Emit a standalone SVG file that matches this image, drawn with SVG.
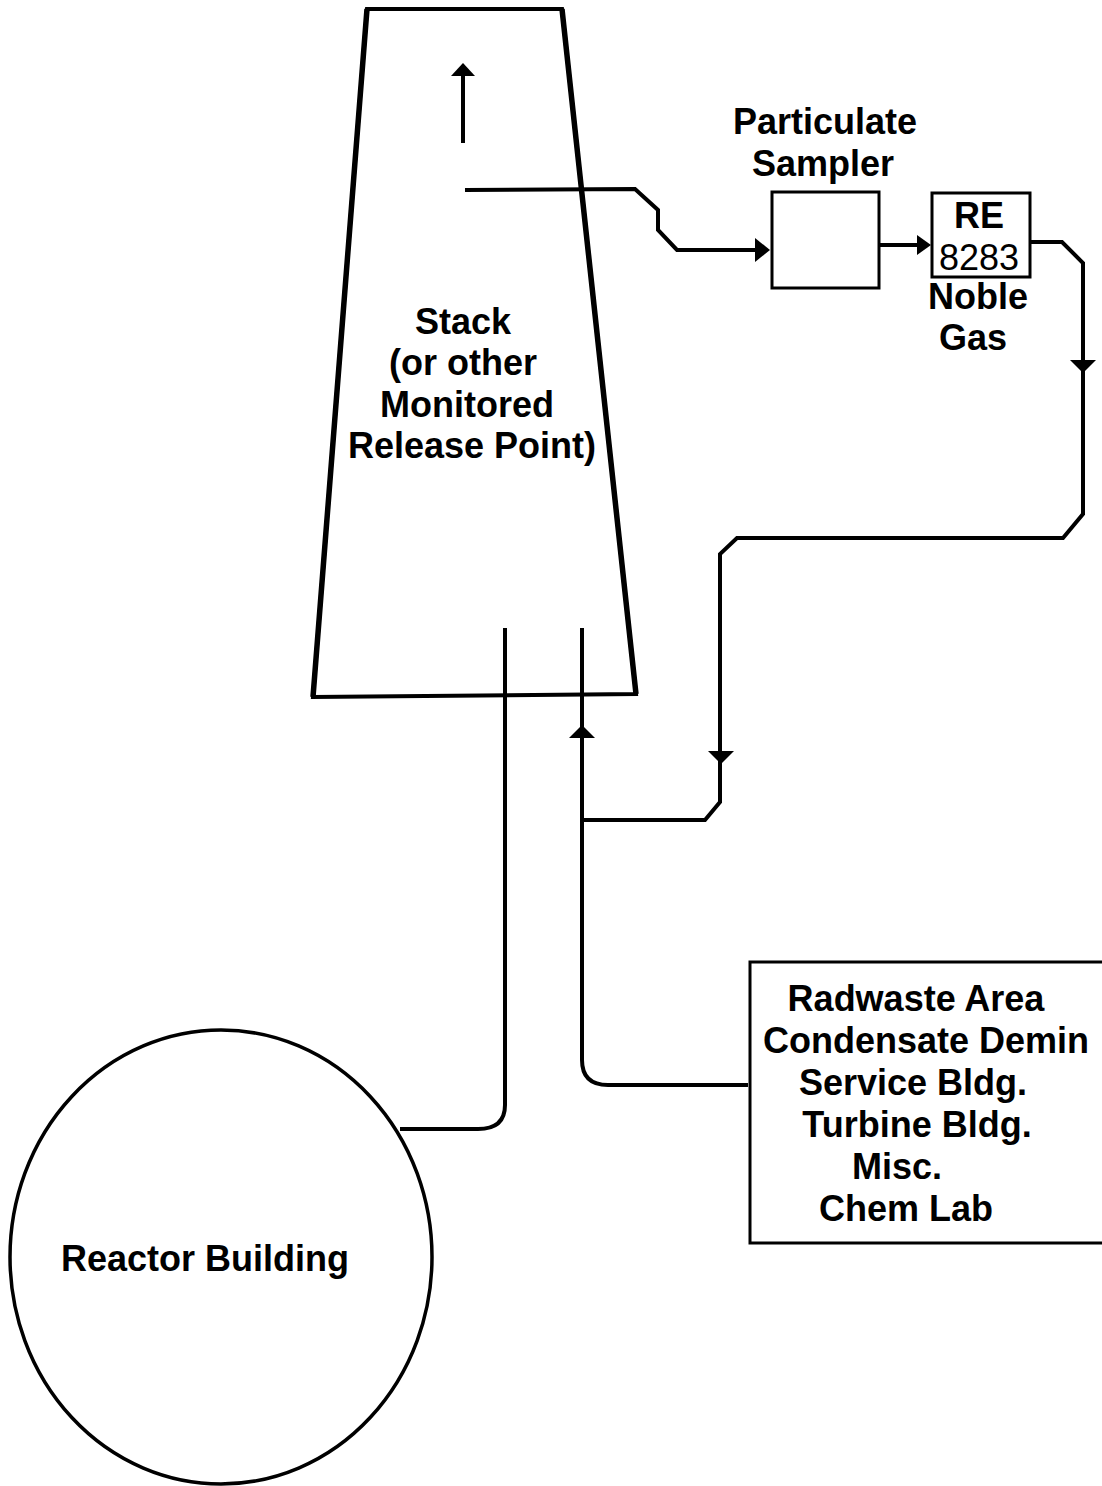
<svg xmlns="http://www.w3.org/2000/svg" width="1102" height="1486" viewBox="0 0 1102 1486">
<style>
.t{font-family:"Liberation Sans",Arial,sans-serif;font-weight:bold;font-size:36px;fill:#000;text-anchor:middle}
.n{font-weight:normal}
.ln{fill:none;stroke:#000;stroke-width:4;stroke-linejoin:miter}
.box{fill:none;stroke:#000;stroke-width:3}
</style>
<rect width="1102" height="1486" fill="#fff"/>
<g id="stack">
<path d="M367,9 L562,9 L636,694 L313,697 Z" fill="none" stroke="#000" stroke-width="4"/>
<path d="M367,9 L313,697 M562,9 L636,694" fill="none" stroke="#000" stroke-width="5.5"/>
<path d="M463,143 L463,74" stroke="#000" stroke-width="4"/>
<path d="M451,76 L463,63 L475,76 Z" fill="#000"/>
<text class="t" x="463" y="334">Stack</text>
<text class="t" x="463" y="375">(or other</text>
<text class="t" x="467" y="417">Monitored</text>
<text class="t" x="472" y="458">Release Point)</text>
</g>
<g id="particulate-sampler">
<rect class="box" x="772" y="192" width="107" height="96"/>
<text class="t" x="825" y="134">Particulate</text>
<text class="t" x="823" y="176">Sampler</text>
</g>
<g id="re8283">
<rect class="box" x="932" y="193" width="98" height="84"/>
<text class="t" x="979" y="228">RE</text>
<text class="t n" x="979" y="270" font-size="37">8283</text>
<text class="t" x="978" y="309">Noble</text>
<text class="t" x="973" y="350">Gas</text>
</g>
<g id="reactor-building">
<ellipse cx="221" cy="1257" rx="211" ry="227" fill="none" stroke="#000" stroke-width="3.5"/>
<text class="t" x="205" y="1271">Reactor Building</text>
</g>
<g id="other-buildings">
<path class="box" d="M1102,962 L750,962 L750,1243 L1102,1243"/>
<text class="t" x="916" y="1011">Radwaste Area</text>
<text class="t" x="926" y="1053">Condensate Demin</text>
<text class="t" x="913" y="1095">Service Bldg.</text>
<text class="t" x="917" y="1137">Turbine Bldg.</text>
<text class="t" x="897" y="1179">Misc.</text>
<text class="t" x="906" y="1221">Chem Lab</text>
</g>
<g id="connectors">
<path class="ln" d="M465,190 L635,189 L658,210 L658,230 L677,250 L760,250"/>
<path d="M755,238 L770,250 L755,262 Z" fill="#000"/>
<path class="ln" d="M879,245 L922,245"/>
<path d="M917,235 L931,245 L917,255 Z" fill="#000"/>
<path class="ln" d="M1030,242 L1062,242 L1083,263 L1083,514 L1063,538 L737,538 L720,554 L720,802 L705,820 L582,820"/>
<path d="M1070,360 L1096,360 L1083,373 Z" fill="#000"/>
<path d="M708,751 L734,751 L721,764 Z" fill="#000"/>
<path class="ln" d="M582,628 L582,1060 Q582,1085 608,1085 L748,1085"/>
<path d="M569,738 L595,738 L582,725 Z" fill="#000"/>
<path class="ln" d="M505,628 L505,1105 Q505,1129 478,1129 L400,1129"/>
</g>
</svg>
